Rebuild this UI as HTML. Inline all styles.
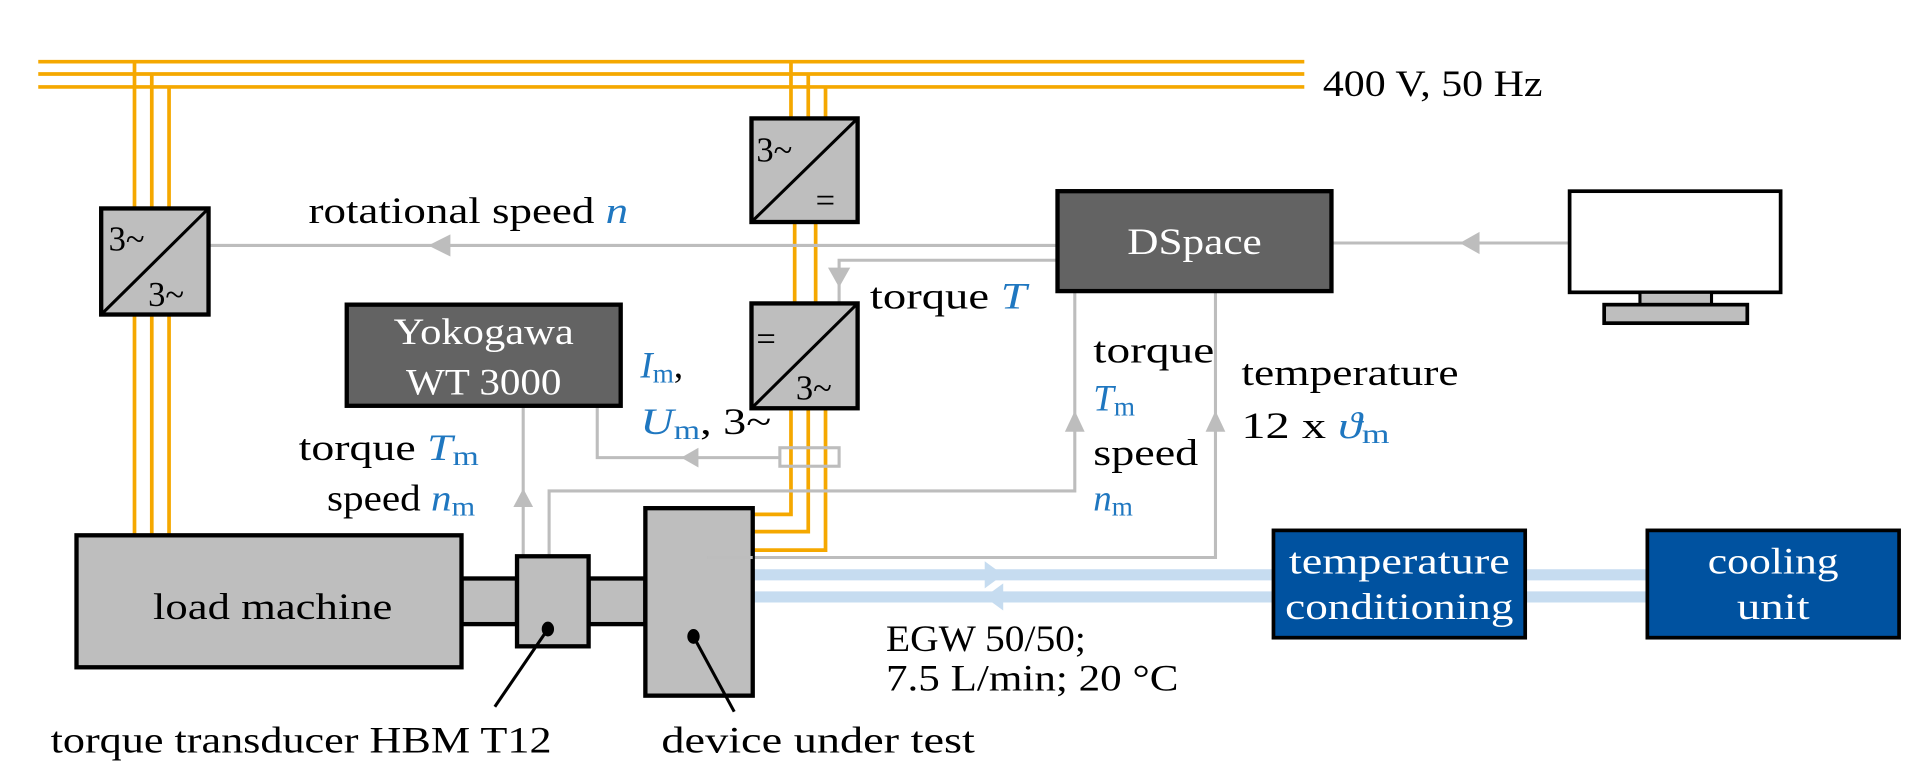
<!DOCTYPE html>
<html><head><meta charset="utf-8"><style>
html,body{margin:0;padding:0;background:#fff;}
svg{display:block;}
text{font-family:"Liberation Serif",serif;}
</style></head><body>
<svg width="1925" height="782" viewBox="0 0 1560 634" preserveAspectRatio="none" xmlns="http://www.w3.org/2000/svg">
<g font-size="30">
<g stroke="#f5a800" stroke-width="3" fill="none">
<line x1="31" y1="50" x2="1057" y2="50"/>
<line x1="31" y1="60" x2="1057" y2="60"/>
<line x1="31" y1="70.5" x2="1057" y2="70.5"/>
<line x1="109" y1="50" x2="109" y2="433"/>
<line x1="123" y1="60" x2="123" y2="433"/>
<line x1="137" y1="70.5" x2="137" y2="433"/>
<line x1="641" y1="50" x2="641" y2="96"/>
<line x1="655" y1="60" x2="655" y2="96"/>
<line x1="669" y1="70.5" x2="669" y2="96"/>
<line x1="644" y1="180" x2="644" y2="246"/>
<line x1="661" y1="180" x2="661" y2="246"/>
<polyline points="641,331 641,417 610,417"/>
<polyline points="655,331 655,431 610,431"/>
<polyline points="669,331 669,446 610,446"/>
</g>
<g stroke="#c6dcf0" stroke-width="9">
<line x1="610" y1="466" x2="1334" y2="466"/>
<line x1="610" y1="484" x2="1334" y2="484"/>
</g>
<polygon points="813,466 798,455 798,477" fill="#c6dcf0"/>
<polygon points="798,484 813,473 813,495" fill="#c6dcf0"/>
<g stroke="#bdbdbd" stroke-width="2.5" fill="none">
<line x1="169" y1="199" x2="856" y2="199"/>
<polyline points="856,211 680,211 680,246"/>
<line x1="1079" y1="197" x2="1271" y2="197"/>
<polyline points="424,330 424,450"/>
<polyline points="632,371 484,371 484,330"/>
<rect x="632" y="363" width="48" height="15"/>
<polyline points="445,450 445,398 871,398 871,237"/>
<polyline points="573,452 985,452 985,237"/>
</g>
<g fill="#bdbdbd">
<polygon points="347,199 365,190 365,208"/>
<polygon points="680,233 671,217 689,217"/>
<polygon points="1183,197 1199,188 1199,206"/>
<polygon points="552,371 566,363 566,379"/>
<polygon points="424,396 416,411 432,411"/>
<polygon points="871,333 863,350 879,350"/>
<polygon points="985,333 977,350 993,350"/>
</g>
<g stroke="#000" stroke-width="3.5" fill="#bebebe">
<rect x="82" y="169" width="87" height="86"/>
<rect x="609" y="96" width="86" height="84"/>
<rect x="609" y="246" width="86" height="85"/>
</g>
<g stroke="#000" stroke-width="2.5">
<line x1="82" y1="255" x2="169" y2="169"/>
<line x1="609" y1="180" x2="695" y2="96"/>
<line x1="609" y1="331" x2="695" y2="246"/>
</g>
<g font-size="28">
<text x="88" y="203">3~</text>
<text x="120" y="248">3~</text>
<text x="613" y="131">3~</text>
<text x="661" y="172">=</text>
<text x="613" y="284">=</text>
<text x="645" y="324">3~</text>
</g>
<rect x="281" y="247" width="222" height="82" fill="#636363" stroke="#000" stroke-width="3.5"/>
<text x="392" y="279" fill="#fff" text-anchor="middle" textLength="146" lengthAdjust="spacingAndGlyphs">Yokogawa</text>
<text x="392" y="320" fill="#fff" text-anchor="middle" textLength="126" lengthAdjust="spacingAndGlyphs">WT 3000</text>
<rect x="857" y="155" width="222" height="81" fill="#636363" stroke="#000" stroke-width="3.5"/>
<text x="968" y="206" fill="#fff" text-anchor="middle" textLength="109" lengthAdjust="spacingAndGlyphs">DSpace</text>
<rect x="1272" y="155" width="171" height="82" fill="#fff" stroke="#000" stroke-width="3"/>
<rect x="1329" y="237" width="58" height="10" fill="#bebebe" stroke="#000" stroke-width="2.5"/>
<rect x="1300" y="247" width="116" height="15" fill="#bebebe" stroke="#000" stroke-width="3"/>
<rect x="1032" y="430" width="204" height="87" fill="#0052a0" stroke="#000" stroke-width="3"/>
<text x="1134" y="465" fill="#fff" text-anchor="middle" textLength="179" lengthAdjust="spacingAndGlyphs">temperature</text>
<text x="1134" y="502" fill="#fff" text-anchor="middle" textLength="185" lengthAdjust="spacingAndGlyphs">conditioning</text>
<rect x="1335" y="430" width="204" height="87" fill="#0052a0" stroke="#000" stroke-width="3"/>
<text x="1437" y="465" fill="#fff" text-anchor="middle" textLength="106" lengthAdjust="spacingAndGlyphs">cooling</text>
<text x="1437" y="502" fill="#fff" text-anchor="middle" textLength="59" lengthAdjust="spacingAndGlyphs">unit</text>
<g stroke="#000" stroke-width="3.5" fill="#bebebe">
<rect x="374" y="469" width="45" height="37"/>
<rect x="477" y="469" width="46" height="37"/>
<rect x="62" y="434" width="312" height="107"/>
<rect x="419" y="451" width="58" height="73"/>
<rect x="523" y="412" width="87" height="152"/>
</g>
<line x1="573" y1="452" x2="610" y2="452" stroke="#bdbdbd" stroke-width="2.5"/>
<text x="124" y="502" textLength="194" lengthAdjust="spacingAndGlyphs">load machine</text>
<ellipse cx="444" cy="510" rx="5" ry="6"/>
<ellipse cx="562" cy="516" rx="5" ry="6"/>
<g stroke="#000" stroke-width="2.5">
<line x1="444" y1="510" x2="401" y2="573"/>
<line x1="562" y1="516" x2="595" y2="577"/>
</g>
<text x="41" y="610" textLength="406" lengthAdjust="spacingAndGlyphs">torque transducer HBM T12</text>
<text x="536" y="610" textLength="254" lengthAdjust="spacingAndGlyphs">device under test</text>
<text x="1072" y="78" textLength="178" lengthAdjust="spacingAndGlyphs">400 V, 50 Hz</text>
<text x="250" y="181" textLength="259" lengthAdjust="spacingAndGlyphs">rotational speed <tspan fill="#1f77c0" font-style="italic">n</tspan></text>
<text x="705" y="250" textLength="127" lengthAdjust="spacingAndGlyphs">torque <tspan fill="#1f77c0" font-style="italic">T</tspan></text>
<text x="519" y="306" fill="#1f77c0"><tspan font-style="italic">I</tspan><tspan font-size="22" dy="4">m</tspan><tspan fill="#000" dy="-4">,</tspan></text>
<text x="519" y="352" fill="#1f77c0" textLength="106" lengthAdjust="spacingAndGlyphs"><tspan font-style="italic">U</tspan><tspan font-size="22" dy="4">m</tspan><tspan fill="#000" dy="-4">, 3~</tspan></text>
<text x="242" y="373" textLength="146" lengthAdjust="spacingAndGlyphs">torque <tspan fill="#1f77c0" font-style="italic">T</tspan><tspan fill="#1f77c0" font-size="22" dy="4">m</tspan></text>
<text x="265" y="414" textLength="120" lengthAdjust="spacingAndGlyphs">speed <tspan fill="#1f77c0" font-style="italic">n</tspan><tspan fill="#1f77c0" font-size="22" dy="4">m</tspan></text>
<text x="886" y="294" textLength="98" lengthAdjust="spacingAndGlyphs">torque</text>
<text x="886" y="333" fill="#1f77c0"><tspan font-style="italic">T</tspan><tspan font-size="22" dy="4">m</tspan></text>
<text x="886" y="377" textLength="85" lengthAdjust="spacingAndGlyphs">speed</text>
<text x="886" y="414" fill="#1f77c0"><tspan font-style="italic">n</tspan><tspan font-size="22" dy="4">m</tspan></text>
<text x="1006" y="312" textLength="176" lengthAdjust="spacingAndGlyphs">temperature</text>
<text x="1006" y="355" textLength="120" lengthAdjust="spacingAndGlyphs">12 x <tspan fill="#1f77c0" font-style="italic">ϑ</tspan><tspan fill="#1f77c0" font-size="22" dy="4">m</tspan></text>
<text x="718" y="528" textLength="162" lengthAdjust="spacingAndGlyphs">EGW 50/50;</text>
<text x="718" y="560" textLength="237" lengthAdjust="spacingAndGlyphs">7.5 L/min; 20 °C</text>
</g>
</svg>
</body></html>
